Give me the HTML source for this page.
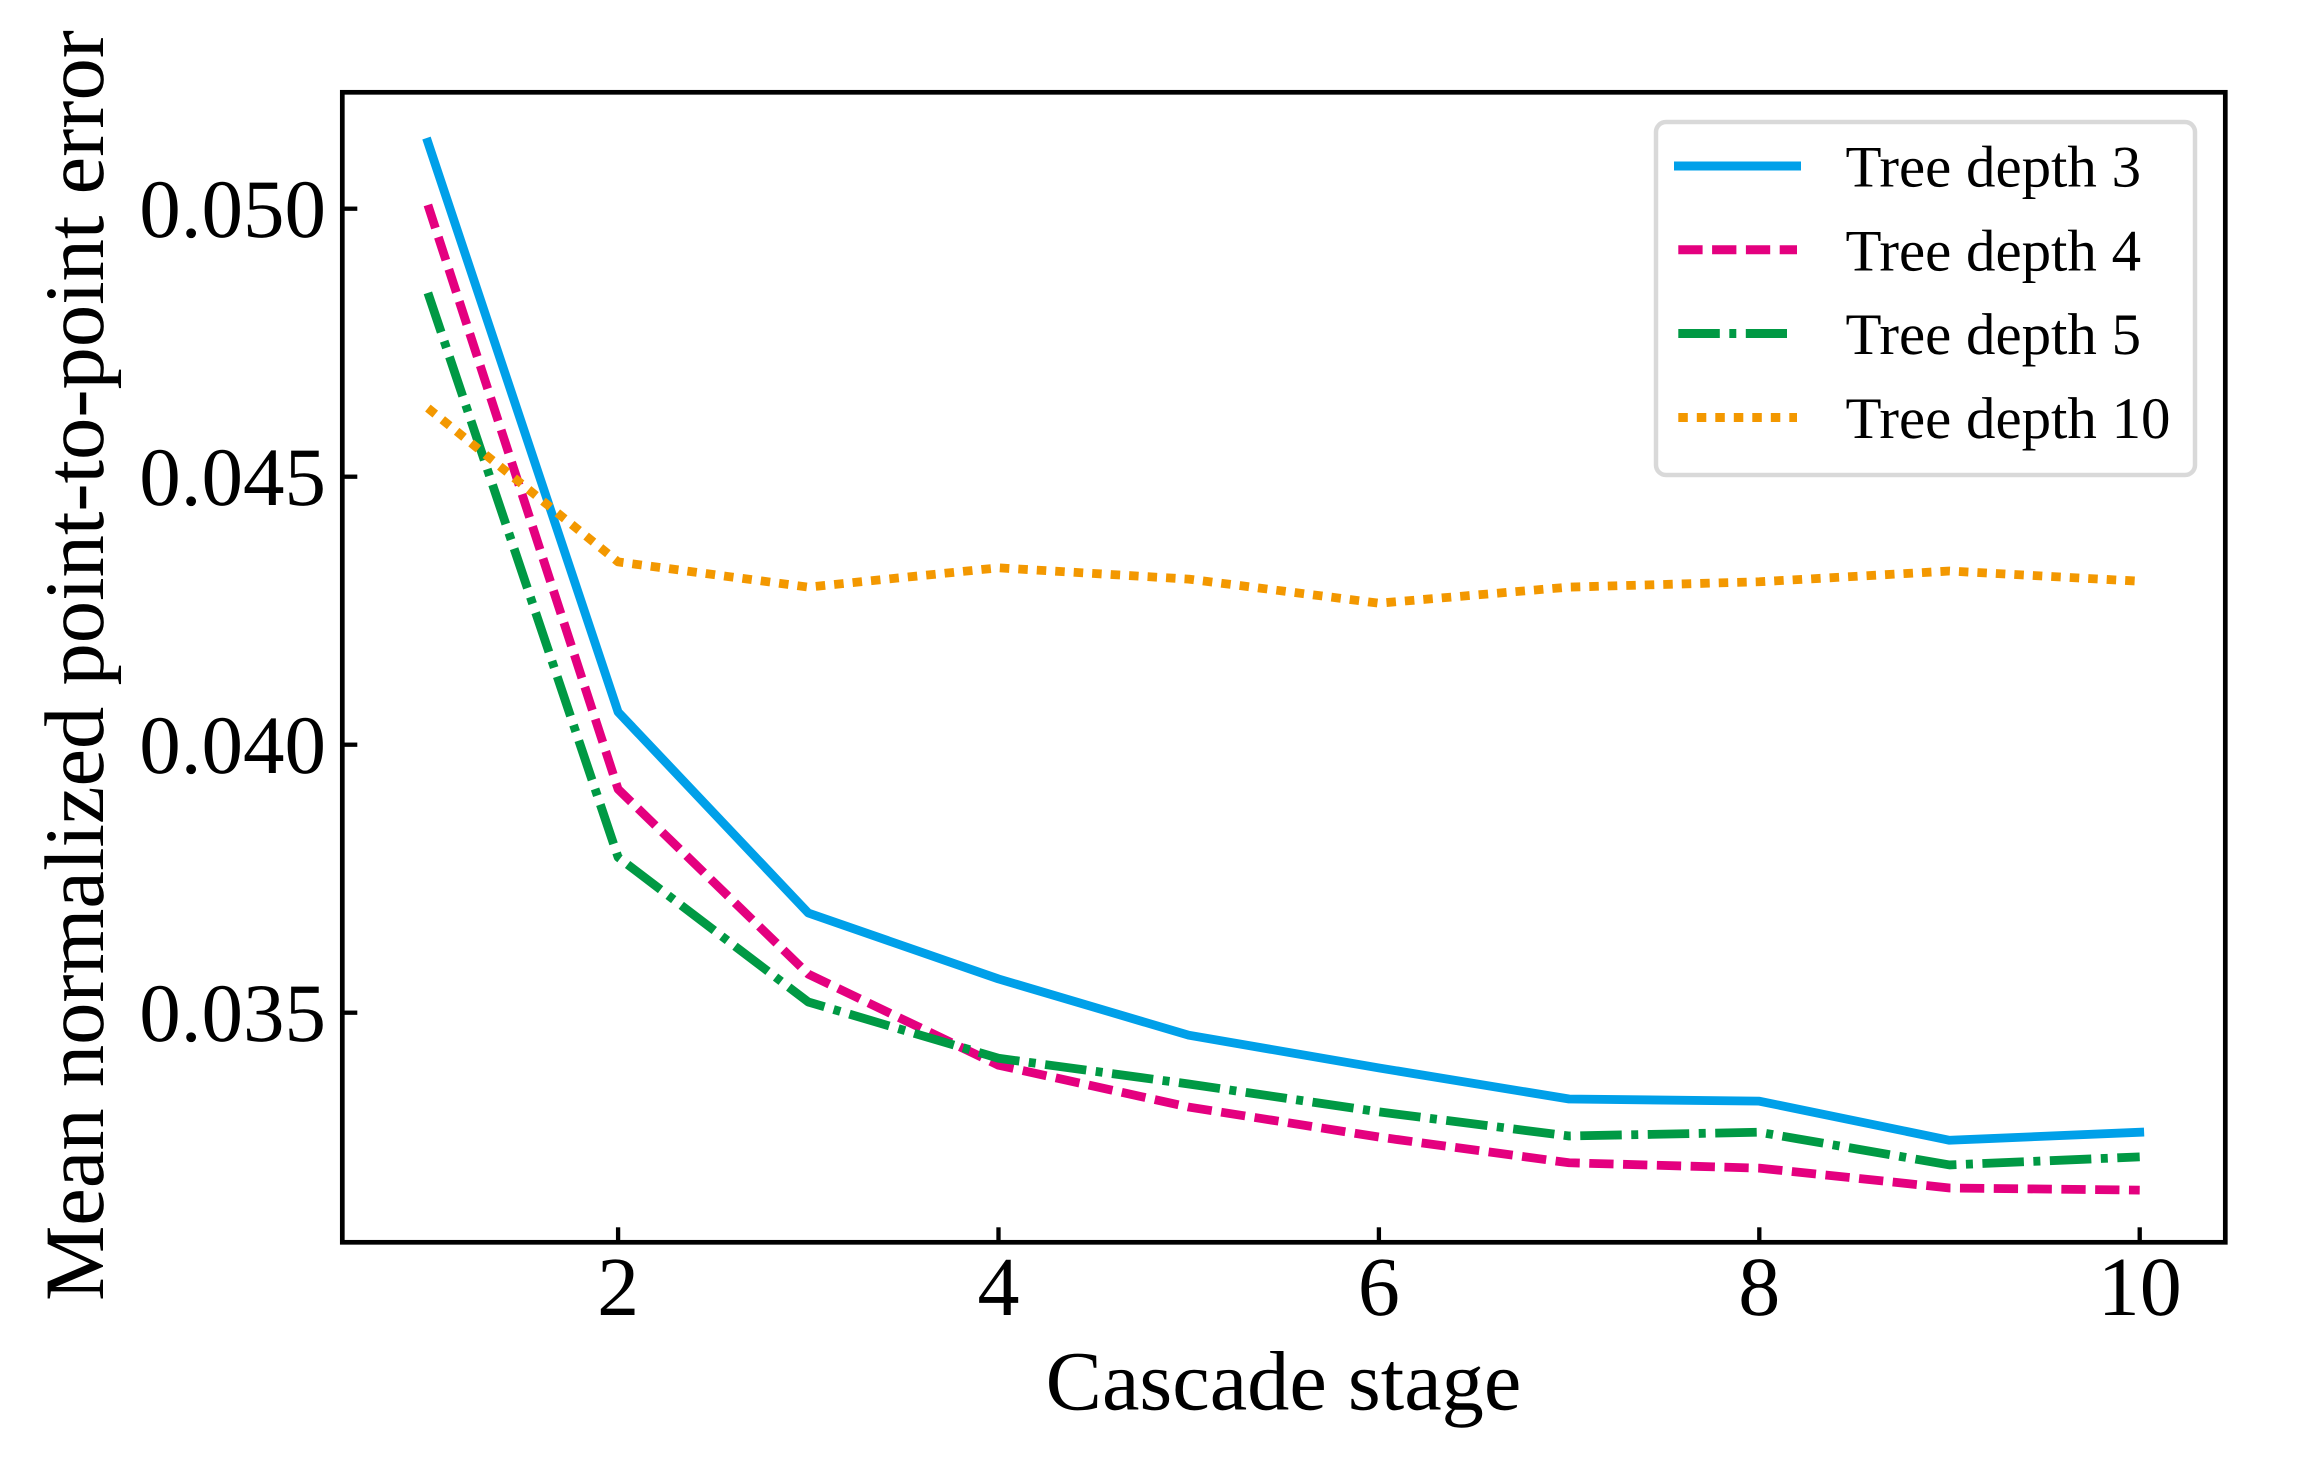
<!DOCTYPE html>
<html lang="en">
<head>
<meta charset="utf-8">
<title>Mean normalized point-to-point error by cascade stage</title>
<style>
html,body{margin:0;padding:0;background:#fff;}
svg{display:block;}
text{font-family:"Liberation Serif","Times New Roman",serif;fill:#000;text-rendering:geometricPrecision;}
</style>
</head>
<body>
<svg id="chart" xmlns="http://www.w3.org/2000/svg" width="2300" height="1475" viewBox="0 0 2300 1475">
  <rect x="0" y="0" width="2300" height="1475" fill="#ffffff"/>
  <g id="series-layer"></g>
  <g id="tick-layer"></g>
  <rect x="342.3" y="92.3" width="1883" height="1150" fill="none" stroke="#000" stroke-width="4.7"/>
  <text x="1283.5" y="1409.5" font-size="84.4" text-anchor="middle">Cascade stage</text>
  <text transform="translate(103 665.5) rotate(-90)" font-size="84.6" text-anchor="middle">Mean normalized point-to-point error</text>
  <g>
    <rect x="1656" y="122" width="539" height="353" rx="10" ry="10" fill="#ffffff" fill-opacity="0.9" stroke="#d9d9d9" stroke-width="4.5"/>
    <g>
      <line x1="1674" y1="166" x2="1801" y2="166" stroke="#00A0E9" stroke-width="9"/>
      <text x="1845.5" y="186.7" font-size="58.9">Tree depth 3</text>
    </g>
    <g>
      <line x1="1678.3" y1="249.8" x2="1797" y2="249.8" stroke="#E4007F" stroke-width="9" stroke-dasharray="24.3 9.5"/>
      <text x="1845.5" y="270.4" font-size="58.9">Tree depth 4</text>
    </g>
    <g>
      <line x1="1678.3" y1="333.5" x2="1787" y2="333.5" stroke="#009944" stroke-width="9" stroke-dasharray="41.5 9.5 7 9.5"/>
      <text x="1845.5" y="354" font-size="58.9">Tree depth 5</text>
    </g>
    <g>
      <line x1="1678.3" y1="417.5" x2="1797" y2="417.5" stroke="#F39800" stroke-width="9" stroke-dasharray="9.5 9"/>
      <text x="1845.5" y="438" font-size="58.9">Tree depth 10</text>
    </g>
  </g>
</svg>
<script>
const stages = [1, 2, 3, 4, 5, 6, 7, 8, 9, 10];
const depth3 = [0.05124, 0.04061, 0.03686, 0.03563, 0.03458, 0.03397, 0.03339, 0.03335, 0.03262, 0.03277];
const depth4 = [0.05007, 0.03917, 0.03572, 0.03402, 0.03324, 0.03268, 0.0322, 0.0321, 0.03173, 0.03169];
const depth5 = [0.04843, 0.0379, 0.0352, 0.03415, 0.03367, 0.03315, 0.0327, 0.03277, 0.03216, 0.03231];
const depth10 = [0.04628, 0.04341, 0.04294, 0.0433, 0.04309, 0.04264, 0.04294, 0.04304, 0.04324, 0.04305];
const xTicks = [2, 4, 6, 8, 10];
const xTickLabels = ['2', '4', '6', '8', '10'];
const yTicks = [0.035, 0.04, 0.045, 0.05];
const yTickLabels = ['0.035', '0.040', '0.045', '0.050'];

const SVG_NS = 'http://www.w3.org/2000/svg';
const plotLeft = 342.3, plotRight = 2225.3, plotTop = 92.3, plotBottom = 1242.3;
const xMin = 0.55, xMax = 10.45;
const yAt050 = 208.7, pxPerUnit = 53600;

function xScale(v) {
  return plotLeft + (v - xMin) / (xMax - xMin) * (plotRight - plotLeft);
}
function yScale(v) {
  return yAt050 + (0.05 - v) * pxPerUnit;
}

const seriesLayer = document.getElementById('series-layer');
const tickLayer = document.getElementById('tick-layer');

function drawSeries(values, color, dash, cap, name) {
  const path = document.createElementNS(SVG_NS, 'polyline');
  path.setAttribute('points', values.map(function (v, i) {
    return xScale(stages[i]).toFixed(2) + ',' + yScale(v).toFixed(2);
  }).join(' '));
  path.setAttribute('fill', 'none');
  path.setAttribute('stroke', color);
  path.setAttribute('stroke-width', '8.8');
  path.setAttribute('stroke-linejoin', 'round');
  path.setAttribute('stroke-linecap', cap);
  if (dash) path.setAttribute('stroke-dasharray', dash);
  
  
  seriesLayer.appendChild(path);
}

drawSeries(depth3, '#00A0E9', '', 'square', 'series-tree-depth-3');
drawSeries(depth4, '#E4007F', '24.3 9.5', 'butt', 'series-tree-depth-4');
drawSeries(depth5, '#009944', '41.5 9.5 7 9.5', 'butt', 'series-tree-depth-5');
drawSeries(depth10, '#F39800', '9.5 9', 'butt', 'series-tree-depth-10');

xTicks.forEach(function (t, i) {
  const x = xScale(t);
  const mark = document.createElementNS(SVG_NS, 'line');
  mark.setAttribute('x1', x);
  mark.setAttribute('x2', x);
  mark.setAttribute('y1', plotBottom);
  mark.setAttribute('y2', plotBottom - 15);
  mark.setAttribute('stroke', '#000');
  mark.setAttribute('stroke-width', '4.3');
  
  
  tickLayer.appendChild(mark);
  const label = document.createElementNS(SVG_NS, 'text');
  label.setAttribute('x', x);
  label.setAttribute('y', '1315');
  label.setAttribute('font-size', '84');
  label.setAttribute('text-anchor', 'middle');
  label.textContent = xTickLabels[i];
  
  
  tickLayer.appendChild(label);
});

yTicks.forEach(function (t, i) {
  const y = yScale(t);
  const mark = document.createElementNS(SVG_NS, 'line');
  mark.setAttribute('x1', plotLeft);
  mark.setAttribute('x2', plotLeft + 15);
  mark.setAttribute('y1', y);
  mark.setAttribute('y2', y);
  mark.setAttribute('stroke', '#000');
  mark.setAttribute('stroke-width', '4.3');
  
  
  tickLayer.appendChild(mark);
  const label = document.createElementNS(SVG_NS, 'text');
  label.setAttribute('x', '326');
  label.setAttribute('y', y + 28.5);
  label.setAttribute('font-size', '83');
  label.setAttribute('text-anchor', 'end');
  label.textContent = yTickLabels[i];
  
  
  tickLayer.appendChild(label);
});
</script>
</body>
</html>
